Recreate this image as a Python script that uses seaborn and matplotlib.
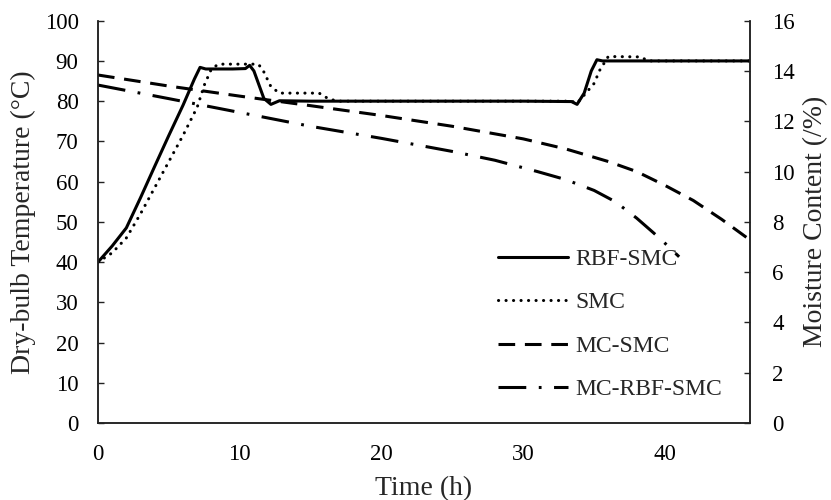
import matplotlib
matplotlib.use("Agg")
import matplotlib.pyplot as plt
import seaborn as sns
import pandas as pd

# ---- data ----
t_rbf = [0, 1, 2, 3, 4, 5, 6, 6.8, 7.2, 7.6, 8.5, 9.5, 10.4, 10.7, 11.0, 11.7, 12.2, 12.8,
         15, 20, 25, 30, 33.4, 33.8, 34.3, 34.8, 35.2, 35.6, 40, 46]
temp_rbf = [40, 44, 48.5, 56, 63.8, 71.5, 79, 85.5, 88.4, 88, 88, 88, 88.1, 88.9, 87.5, 80.7, 79.2, 80.1,
            80, 80, 80, 80, 79.9, 79.2, 82, 87.5, 90.3, 90, 90, 90]

t_smc = [0, 1, 2, 3, 4, 5, 6, 7, 7.5, 8, 8.5, 10, 11.3, 11.6, 12.2, 12.8, 14, 15.6, 16.3, 17,
         20, 25, 30, 33.4, 33.8, 34.3, 35.0, 35.4, 36.0, 38.3, 38.8, 46]
temp_smc = [40, 42.3, 46, 52, 58.5, 65, 71.5, 78.5, 84, 88, 89.2, 89.2, 89.2, 88, 83.6, 82, 82, 82, 80.5, 80,
            80, 80, 80, 80, 79.5, 81.5, 84.4, 87.7, 91.1, 91, 90, 90]

t_mc_smc = [0, 5, 10, 15, 20, 25, 30, 33, 36, 38, 40, 42, 44, 46]
mc_smc = [13.84, 13.4, 13.0, 12.62, 12.23, 11.8, 11.3, 10.9, 10.4, 10.0, 9.45, 8.85, 8.1, 7.28]

t_mc_rbf = [0, 5, 10, 15, 20, 25, 28, 31, 33, 35, 36.5, 38, 39.2, 40, 41]
mc_rbf = [13.44, 12.9, 12.35, 11.8, 11.32, 10.8, 10.45, 10.0, 9.68, 9.25, 8.8, 8.15, 7.56, 7.15, 6.61]

labels = ["RBF-SMC", "SMC", "MC-SMC", "MC-RBF-SMC"]
x_ticks = [0, 10, 20, 30, 40]
y_ticks = list(range(0, 101, 10))
y2_ticks = list(range(0, 17, 2))

# ---- style ----
sns.set_style("white")
plt.rcParams["font.family"] = ["Liberation Serif", "DejaVu Serif"]
plt.rcParams["lines.scale_dashes"] = False
FS_TICK = 16.5
FS_LEG = 17
FS_LAB = 20

fig = plt.figure(figsize=(8.31, 5.0), dpi=100)
ax = fig.add_axes([98 / 831, 1 - 423 / 500, (750 - 98) / 831, (423 - 20.7) / 500])
ax2 = ax.twinx()

lw = 2.2
df1 = pd.DataFrame({"t": t_rbf, "v": temp_rbf})
df2 = pd.DataFrame({"t": t_smc, "v": temp_smc})
df3 = pd.DataFrame({"t": t_mc_smc, "v": mc_smc})
df4 = pd.DataFrame({"t": t_mc_rbf, "v": mc_rbf})

sns.lineplot(data=df1, x="t", y="v", ax=ax, color="black", linewidth=lw,
             estimator=None, sort=False, label=labels[0])
sns.lineplot(data=df2, x="t", y="v", ax=ax, color="black", linewidth=lw,
             linestyle=(0, (0.1, 5.3)), dash_capstyle="round",
             estimator=None, sort=False, label=labels[1])
sns.lineplot(data=df3, x="t", y="v", ax=ax2, color="black", linewidth=lw,
             linestyle=(0, (12, 7)), estimator=None, sort=False, label=labels[2])
sns.lineplot(data=df4, x="t", y="v", ax=ax2, color="black", linewidth=lw,
             linestyle=(0, (20, 9, 2, 9)), estimator=None, sort=False, label=labels[3])

for a in (ax, ax2):
    lg = a.get_legend()
    if lg is not None:
        lg.remove()

ax.set_xlim(0, 46)
ax.set_ylim(0, 100)
ax2.set_ylim(0, 16)
ax.set_xticks(x_ticks)
ax.set_yticks(y_ticks)
ax2.set_yticks(y2_ticks)

ax.set_xlabel("Time (h)", fontsize=FS_LAB)
ax.set_ylabel("Dry-bulb Temperature (\u00b0C)", fontsize=FS_LAB)
ax2.set_ylabel("Moisture Content (/%)", fontsize=FS_LAB)
ax.xaxis.set_label_coords(0.5, (423 - 476) / 402.3)
ax.yaxis.set_label_coords((36 - 98) / 652, 0.5)
ax2.yaxis.set_label_coords((803 - 98) / 652, 0.5)

for a in (ax, ax2):
    for s in ["left", "right", "bottom"]:
        a.spines[s].set_color("#222222")
        a.spines[s].set_linewidth(1.1)
    a.spines["top"].set_visible(False)

ax.tick_params(axis="x", direction="in", length=4, width=1, labelsize=FS_TICK, pad=15,
               colors="#222222", labelcolor="black")
ax.tick_params(axis="y", direction="in", length=4, width=1, labelsize=FS_TICK, pad=14,
               colors="#222222", labelcolor="black")
ax2.tick_params(axis="y", direction="in", length=4, width=1, labelsize=FS_TICK, pad=16,
                colors="#222222", labelcolor="black")

h1, l1 = ax.get_legend_handles_labels()
h2, l2 = ax2.get_legend_handles_labels()
leg = ax2.legend(h1 + h2, l1 + l2, loc="center left", bbox_to_anchor=(0.613, 0.245),
                 frameon=False, fontsize=FS_LEG, handlelength=2.97, handletextpad=0.3,
                 labelspacing=0.93, borderpad=0, borderaxespad=0)

fig.savefig("out.png", dpi=100)
